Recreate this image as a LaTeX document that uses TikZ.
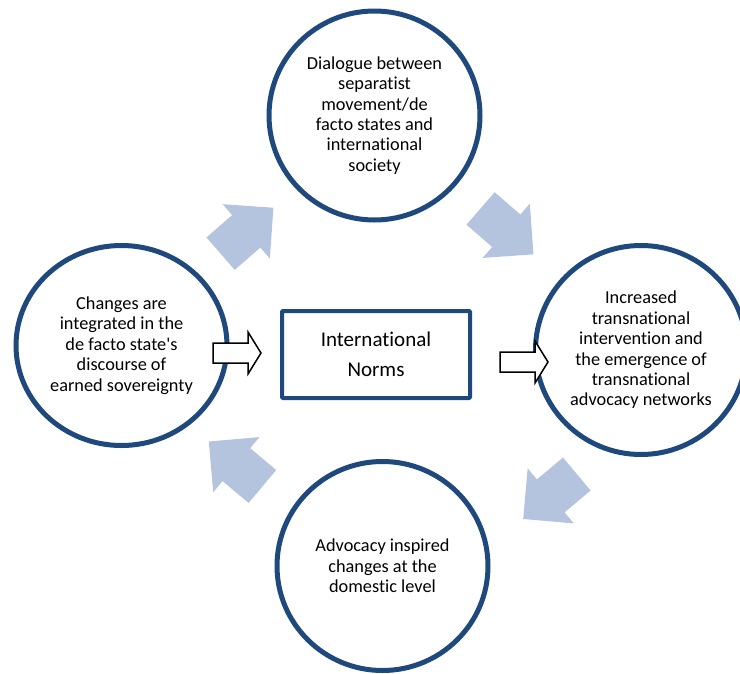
\documentclass[tikz,border=0pt]{standalone}
\usepackage{fontspec}
\setmainfont{Carlito}[Ligatures={TeX,NoCommon}]
\usetikzlibrary{shapes.geometric}

\definecolor{ringblue}{RGB}{31,73,125}
\definecolor{paleblue}{RGB}{180,196,222}

\tikzset{
  bubble/.style={draw=ringblue, line width=5pt, fill=white, ellipse,
    minimum width=211pt, minimum height=209pt, inner sep=0pt, align=center,
    font=\fontsize{18.3}{20.4}\selectfont},
  normbox/.style={draw=ringblue, line width=4pt, rounded corners=1pt,
    minimum width=188pt, minimum height=87pt, align=center,
    font=\fontsize{21}{30}\selectfont},
  pics/bigarrow/.style={code={
    \fill[paleblue] (-35,-21.5) -- (-1,-21.5) -- (-1,-36) -- (35,0)
      -- (-1,36) -- (-1,21.5) -- (-35,21.5) -- cycle;
  }},
  pics/hollowarrow/.style={code={
    \draw[fill=white, line width=1.5pt] (-24,-10) -- (11,-10) -- (11,-21)
      -- (24,0) -- (11,21) -- (11,10) -- (-24,10) -- cycle;
  }},
}

\begin{document}
\begin{tikzpicture}[x=1pt, y=-1pt]
    \useasboundingbox (0,0) rectangle (740,673);
    \clip (0,0) rectangle (740,673);

    % the four stages
    \node[bubble] (dialogue) at (374.5,115.5) {Dialogue between\\separatist\\movement/de\\facto states and\\international\\society};
    \node[bubble, minimum height=200pt] (changes) at (121.5,345.5) {Changes are\\integrated in the\\de facto state\textquotesingle s\\discourse of\\earned sovereignty};
    \node[bubble] (increased) at (641,350) {Increased\\transnational\\intervention and\\the emergence of\\transnational\\advocacy networks};
    \node[bubble] (advocacy) at (382.5,566) {Advocacy inspired\\changes at the\\domestic level};

    \node[normbox] (norms) at (376,354.5) {International\\Norms};

    % cycle arrows
    \pic[rotate=41] at (247,230.7) {bigarrow};
    \pic[rotate=-41] at (507,231.4) {bigarrow};
    \pic[rotate=220] at (550,496.5) {bigarrow};
    \pic[rotate=140] at (235.6,464) {bigarrow};

    % in and out of the norms
    \pic at (237,353) {hollowarrow};
    \pic at (524,362) {hollowarrow};
\end{tikzpicture}
\end{document}
